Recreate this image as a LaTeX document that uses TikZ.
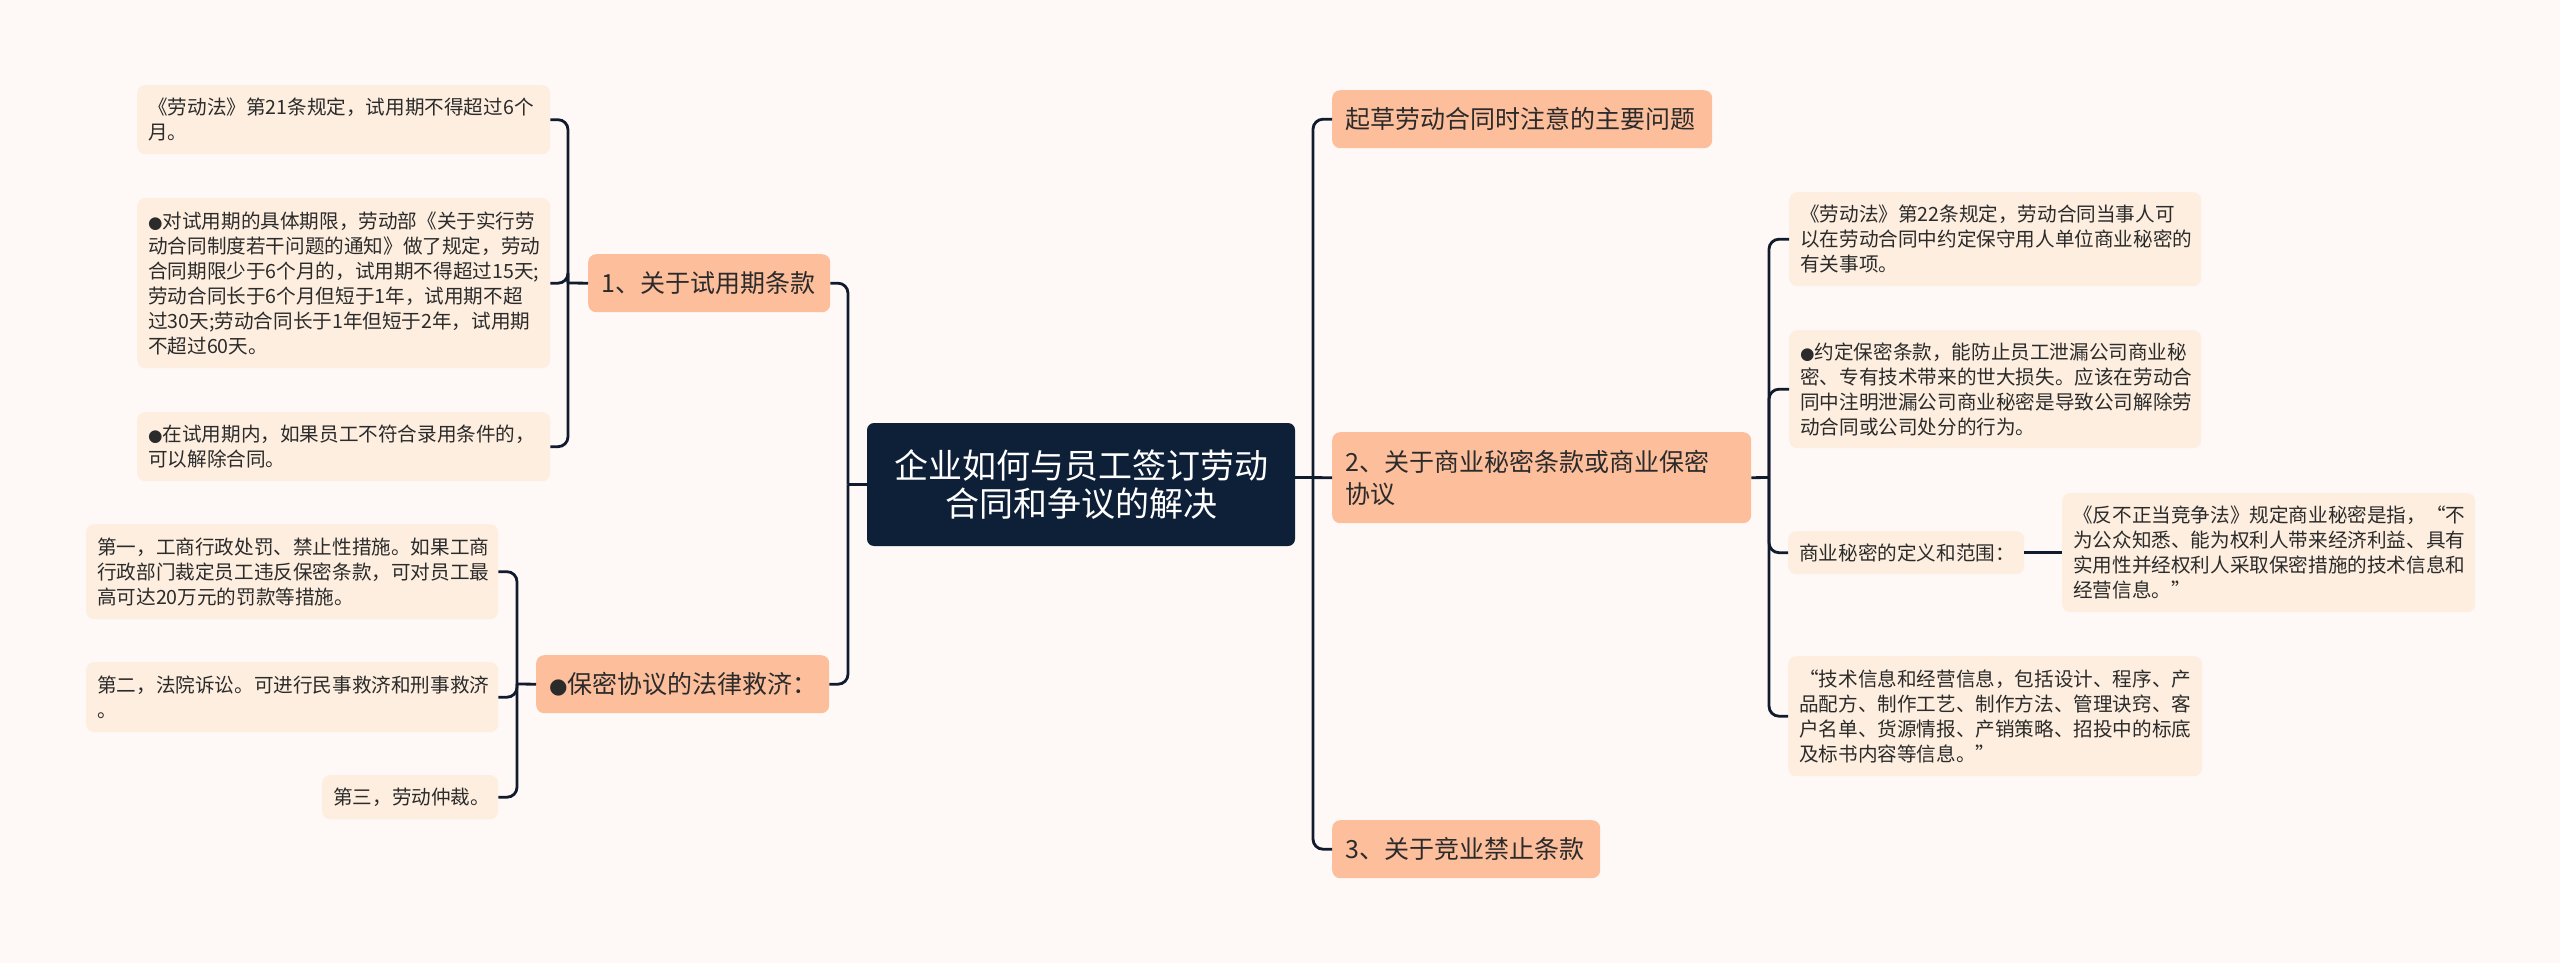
\documentclass[tikz,border=0pt]{standalone}
\usepackage{fontspec}
\setmainfont{Noto Sans CJK SC}
\newfontfamily\dvfont{DejaVu Sans}
\newcommand{\bulmark}{{\dvfont\scalebox{0.85}{●}}}
\definecolor{bgc}{HTML}{FEF9F6}
\definecolor{lone}{HTML}{FDBE9C}
\definecolor{ltwo}{HTML}{FDEEDF}
\definecolor{rootc}{HTML}{0E1F38}
\definecolor{linec}{HTML}{111B2E}
\definecolor{txt}{HTML}{2B2B2B}
\begin{document}
\begin{tikzpicture}[x=1pt,y=-1pt,
  base/.style={line width=2.8pt, draw=linec},
  conn/.style={base, rounded corners=10pt},
  rootbox/.style={fill=rootc, rounded corners=7pt, text=white, align=center,
    minimum width=428pt, minimum height=123pt, inner sep=0pt,
    font=\fontsize{34}{38}\selectfont},
  lvone/.style={anchor=north west, fill=lone, rounded corners=8pt, inner xsep=13pt,
    inner ysep=0pt, align=left, text=txt, font=\fontsize{25}{32}\selectfont},
  lvtwo/.style={anchor=north west, fill=ltwo, rounded corners=8pt, inner xsep=11pt,
    inner ysep=0pt, align=left, text=txt, font=\fontsize{19.6}{25}\selectfont}]
\useasboundingbox (0,0) rectangle (2560,963);
\fill[bgc] (0,0) rectangle (2560,963);

% root
\node[rootbox] (c0) at (1081,484.5) {企业如何与员工签订劳动\\合同和争议的解决};

% level one
\node[lvone, text width=216pt, minimum height=58pt] (L1n) at (588,254) {1、关于试用期条款};
\node[lvone, text width=267pt, minimum height=58pt] (L2n) at (536,655) {\bulmark 保密协议的法律救济：};
\node[lvone, text width=354pt, minimum height=58pt] (R1) at (1332,90) {起草劳动合同时注意的主要问题};
\node[lvone, text width=393pt, minimum height=91pt] (R2) at (1332,432) {2、关于商业秘密条款或商业保密\\协议};
\node[lvone, text width=242pt, minimum height=58pt] (R3) at (1332,820) {3、关于竞业禁止条款};

% level two, left
\node[lvtwo, text width=391pt, minimum height=69pt] (a1) at (137,85) {《劳动法》第21条规定，试用期不得超过6个\\月。};
\node[lvtwo, text width=391pt, minimum height=170pt] (a2) at (137,198) {\bulmark 对试用期的具体期限，劳动部《关于实行劳\\动合同制度若干问题的通知》做了规定，劳动\\合同期限少于6个月的，试用期不得超过15天;\\劳动合同长于6个月但短于1年，试用期不超\\过30天;劳动合同长于1年但短于2年，试用期\\不超过60天。};
\node[lvtwo, text width=391pt, minimum height=69pt] (a3) at (137,412) {\bulmark 在试用期内，如果员工不符合录用条件的，\\可以解除合同。};
\node[lvtwo, text width=390pt, minimum height=95pt] (b1) at (86,524) {第一，工商行政处罚、禁止性措施。如果工商\\行政部门裁定员工违反保密条款，可对员工最\\高可达20万元的罚款等措施。};
\node[lvtwo, text width=390pt, minimum height=70pt] (b2) at (86,662) {第二，法院诉讼。可进行民事救济和刑事救济\\。};
\node[lvtwo, text width=154pt, minimum height=44pt] (b3) at (322,775) {第三，劳动仲裁。};

% level two, right
\node[lvtwo, text width=390pt, minimum height=94pt] (c1) at (1789,192) {《劳动法》第22条规定，劳动合同当事人可\\以在劳动合同中约定保守用人单位商业秘密的\\有关事项。};
\node[lvtwo, text width=390pt, minimum height=118pt] (c2) at (1789,330) {\bulmark 约定保密条款，能防止员工泄漏公司商业秘\\密、专有技术带来的世大损失。应该在劳动合\\同中注明泄漏公司商业秘密是导致公司解除劳\\动合同或公司处分的行为。};
\node[lvtwo, text width=214pt, minimum height=43pt] (c3) at (1788,531) {商业秘密的定义和范围：};
\node[lvtwo, text width=391pt, minimum height=119pt] (d1) at (2062,493) {《反不正当竞争法》规定商业秘密是指，“不\\为公众知悉、能为权利人带来经济利益、具有\\实用性并经权利人采取保密措施的技术信息和\\经营信息。”};
\node[lvtwo, text width=392pt, minimum height=120pt] (c4) at (1788,656) {“技术信息和经营信息，包括设计、程序、产\\品配方、制作工艺、制作方法、管理诀窍、客\\户名单、货源情报、产销策略、招投中的标底\\及标书内容等信息。”};

% junctions
\coordinate (jl) at (848,484.5);
\coordinate (jr) at (1313,477.5);
\coordinate (s1) at (568,283);
\coordinate (s2) at (517,684);
\coordinate (s3) at (1769,477.5);

% root connectors
\draw[base] (c0.west) -- (jl);
\draw[conn] (jl) |- (L1n.east);
\draw[conn] (jl) |- (L2n.east);
\draw[base] (c0.east |- jr) -- (R2.west);
\draw[conn] (jr) |- (R1.west);
\draw[conn] (jr) |- (R3.west);

% group 1
\draw[base] (L1n.west) -- (s1);
\draw[conn] (s1) |- (a1.east);
\draw[conn] (s1) |- (a2.east);
\draw[conn] (s1) |- (a3.east);

% group 2
\draw[base] (L2n.west) -- (s2);
\draw[conn] (s2) |- (b1.east);
\draw[conn] (s2) |- (b2.east);
\draw[conn] (s2) |- (b3.east);

% group 3
\draw[base] (R2.east) -- (s3);
\draw[conn] (s3) |- (c1.west);
\draw[conn] (s3) |- (c2.west);
\draw[conn] (s3) |- (c3.west);
\draw[conn] (s3) |- (c4.west);
\draw[base] (c3.east) -- (d1.west);
\end{tikzpicture}
\end{document}
